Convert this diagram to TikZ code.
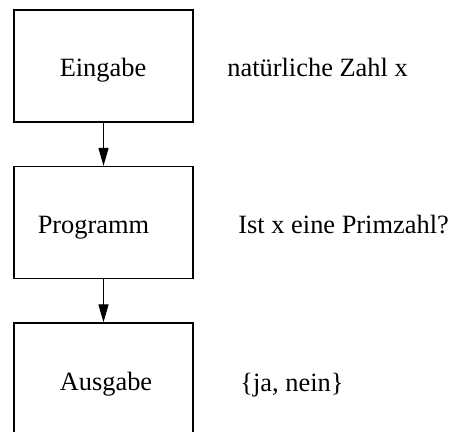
\documentclass[tikz,border=0pt]{standalone}
\usepackage{fontspec}
\setmainfont{Liberation Serif}
\usetikzlibrary{arrows.meta}

\begin{document}
\begin{tikzpicture}[x=0.5pt, y=-0.5pt,
	box/.style={draw, line width=0.6pt, minimum width=89.5pt, minimum height=56pt, inner sep=0pt},
	txt/.style={anchor=base, inner sep=0pt, font=\fontsize{13.2}{16}\selectfont},
	flow/.style={line width=0.6pt, -{Triangle[length=9pt, width=5pt]}}]
	\useasboundingbox (0,0) rectangle (457,432);
	% the three stages
	\node[box] (eingabe) at (103.5,66) {};
	\node[box] (programm) at (103.5,222.5) {};
	\node[box] (ausgabe) at (103.5,379) {};
	\node[txt] (teingabe) at (103,76.7) {Eingabe};
	\node[txt] (tprogramm) at (93.5,234) {Programm};
	\node[txt] (tausgabe) at (106,391) {Ausgabe};
	% what each stage means
	\node[txt, anchor=base west] (zahl) at (227,76.7) {natürliche Zahl x};
	\node[txt, anchor=base west] (frage) at (238,233.5) {Ist x eine Primzahl?};
	\node[txt, anchor=base west] (antwort) at (240,392) {\{ja, nein\}};
	\draw[flow] (eingabe) -- (programm);
	\draw[flow] (programm) -- (ausgabe);
\end{tikzpicture}
\end{document}
